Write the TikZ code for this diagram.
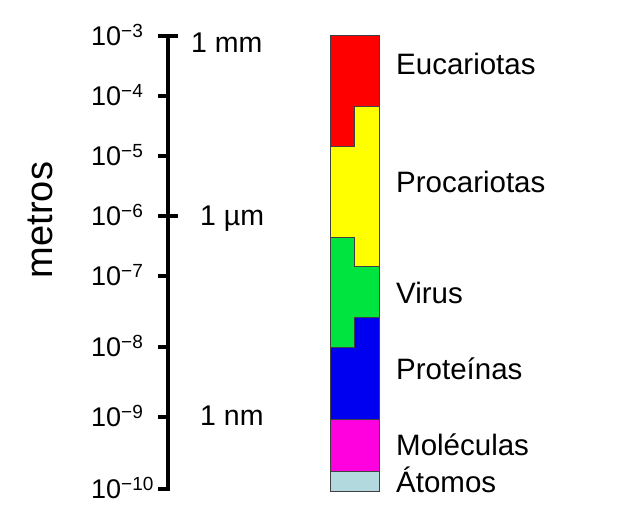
\documentclass[tikz,border=0pt]{standalone}
\usepackage{fontspec}
\setmainfont{Liberation Sans}
\usetikzlibrary{positioning}
\definecolor{eucacol}{RGB}{255,0,0}
\definecolor{procol}{RGB}{255,255,0}
\definecolor{viruscol}{RGB}{0,228,64}
\definecolor{protcol}{RGB}{0,0,240}
\definecolor{molcol}{RGB}{255,0,222}
\definecolor{atomcol}{RGB}{178,218,222}
\newcommand{\potdiez}[1]{10\raisebox{7.5pt}{\fontsize{19}{19}\selectfont −#1}}
\tikzset{
  escala/.style={line width=4pt},
  etiq/.style={anchor=base west, inner sep=0pt, font=\fontsize{27}{30}\selectfont},
  texto/.style={anchor=base west, inner sep=0pt, font=\fontsize{29.5}{32}\selectfont},
  zona/.style={draw=black!75, line width=0.8pt, line join=miter}
}
\begin{document}
\begin{tikzpicture}[x=1pt,y=-1pt]
    \useasboundingbox (0,0) rectangle (629,512);

    % Eje de metros
    \draw[escala] (168,34) -- (168,491);
    \draw[escala] (158,36) -- (178,36);
    \draw[escala] (158,216) -- (178,216);
    \draw[escala] (158,489) -- (170,489);
    \foreach \y/\e in {36/3, 96/4, 156/5, 216/6, 276/7, 347/8, 417/9, 489/10} {
        \draw[escala] (158,\y) -- (168,\y);
        \node[etiq] (pot\e) at (91,\y+9) {\potdiez{\e}};
    }

    % Unidades
    \node[texto, font=\fontsize{28.5}{30}\selectfont] (mm) at (191,52) {1 mm};
    \node[texto, font=\fontsize{28.5}{30}\selectfont] (um) at (200,225) {1 µm};
    \node[texto, font=\fontsize{28.5}{30}\selectfont] (nm) at (200,425) {1 nm};

    \node[rotate=90, anchor=base, inner sep=0pt, font=\fontsize{38}{40}\selectfont] (metros) at (52,220) {metros};

    % Barras de tamanos
    \filldraw[zona, fill=eucacol] (330,35) -- (379,35) -- (379,106) -- (354,106) -- (354,146) -- (330,146) -- cycle;
    \filldraw[zona, fill=procol] (330,146) -- (354,146) -- (354,106) -- (379,106) -- (379,266) -- (354,266) -- (354,237) -- (330,237) -- cycle;
    \filldraw[zona, fill=viruscol] (330,237) -- (354,237) -- (354,266) -- (379,266) -- (379,317) -- (354,317) -- (354,347) -- (330,347) -- cycle;
    \filldraw[zona, fill=protcol] (330,347) -- (354,347) -- (354,317) -- (379,317) -- (379,419) -- (330,419) -- cycle;
    \filldraw[zona, fill=molcol] (330,419) rectangle (379,471);
    \filldraw[zona, fill=atomcol] (330,471) rectangle (379,491);

    % Nombres
    \node[texto] (euca) at (396,74) {Eucariotas};
    \node[texto] (proca) at (396,192) {Procariotas};
    \node[texto] (virus) at (396,303) {Virus};
    \node[texto] (prot) at (396,379) {Proteínas};
    \node[texto] (mol) at (396,455) {Moléculas};
    \node[texto] (atom) at (396,492) {Átomos};
\end{tikzpicture}
\end{document}
